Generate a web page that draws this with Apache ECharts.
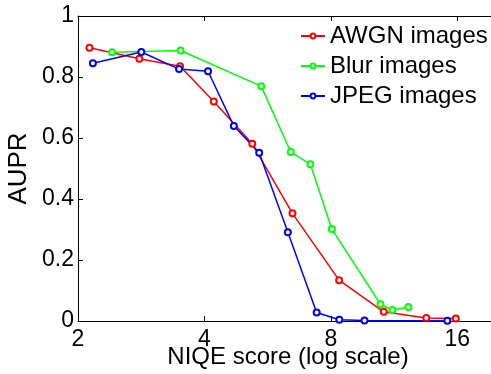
<!DOCTYPE html>
<html>
<head>
<meta charset="utf-8">
<script src="https://cdn.jsdelivr.net/npm/echarts@6/dist/echarts.min.js"></script>
<style>
  html, body { margin: 0; padding: 0; background: #fff; }
  #chart { width: 491px; height: 374px; }
</style>
</head>
<body>
<div id="chart"></div>
<script>
// NIQE score (x, log scale) vs AUPR (y)
const awgnX = [2.13, 2.80, 3.50, 4.21, 5.20, 6.48, 8.37, 10.69, 13.5, 15.87]
const awgnY = [0.896, 0.860, 0.835, 0.720, 0.581, 0.353, 0.134, 0.030, 0.010, 0.008]

const blurX = [2.41, 3.51, 5.46, 6.42, 7.15, 8.04, 10.50, 11.21, 12.24]
const blurY = [0.881, 0.887, 0.770, 0.554, 0.514, 0.302, 0.055, 0.036, 0.046]

const jpegX = [2.17, 2.83, 3.48, 4.08, 4.70, 5.40, 6.32, 7.40, 8.38, 9.62, 15.15]
const jpegY = [0.845, 0.882, 0.826, 0.819, 0.639, 0.552, 0.291, 0.028, 0.004, 0.002, 0.001]

const xMin = 2
const xMax = 20
const fontFamily = 'Liberation Sans, Arial, sans-serif'

const zip = (xs, ys) => xs.map((x, i) => [x, ys[i]])

const makeSeries = (name, color, xs, ys) => ({
  name,
  type: 'line',
  data: zip(xs, ys),
  color,
  symbol: 'emptyCircle',
  symbolSize: 6,
  showSymbol: true,
  lineStyle: { color, width: 1.5 },
  itemStyle: { color, borderColor: color, borderWidth: 1.5 },
  emphasis: { disabled: true },
  animation: false
})

const chart = echarts.init(document.getElementById('chart'))

const baseX = {
  type: 'log',
  logBase: 2,
  min: xMin,
  max: xMax,
  axisLine: { show: true, onZero: false, lineStyle: { color: '#000', width: 1 } },
  axisTick: { show: true, inside: true, length: 5, lineStyle: { color: '#000' } },
  minorTick: { show: false },
  splitLine: { show: false }
}

chart.setOption({
  animation: false,
  grid: { left: 78, right: -7, top: 16, bottom: 53, outerBoundsMode: 'none', containLabel: false },
  legend: {
    orient: 'vertical',
    left: 295,
    top: 19,
    itemWidth: 24,
    itemHeight: 6,
    itemGap: 6,
    textStyle: { fontSize: 24, color: '#000', fontFamily },
    data: ['AWGN images', 'Blur images', 'JPEG images']
  },
  xAxis: [
    {
      ...baseX,
      position: 'bottom',
      name: 'NIQE score (log scale)',
      nameLocation: 'middle',
      nameGap: 24,
      nameMoveOverlap: false,
      nameTextStyle: { fontSize: 24, color: '#000', fontFamily },
      axisLabel: {
        color: '#000',
        fontSize: 23,
        fontFamily,
        margin: 7,
        showMaxLabel: false
      }
    },
    {
      ...baseX,
      position: 'top',
      axisLabel: { show: false }
    }
  ],
  yAxis: {
    type: 'value',
    min: 0,
    max: 1,
    interval: 0.2,
    name: 'AUPR',
    nameLocation: 'middle',
    nameGap: 46,
    nameMoveOverlap: false,
    nameTextStyle: { fontSize: 26, color: '#000', fontFamily },
    axisLine: { show: true, lineStyle: { color: '#000', width: 1 } },
    axisTick: { show: true, inside: true, length: 5, lineStyle: { color: '#000' } },
    splitLine: { show: false },
    axisLabel: { color: '#000', fontSize: 23, fontFamily, margin: 4 }
  },
  series: [
    makeSeries('AWGN images', '#ff0000', awgnX, awgnY),
    makeSeries('Blur images', '#00ff00', blurX, blurY),
    makeSeries('JPEG images', '#0000ff', jpegX, jpegY)
  ]
})
</script>
</body>
</html>
